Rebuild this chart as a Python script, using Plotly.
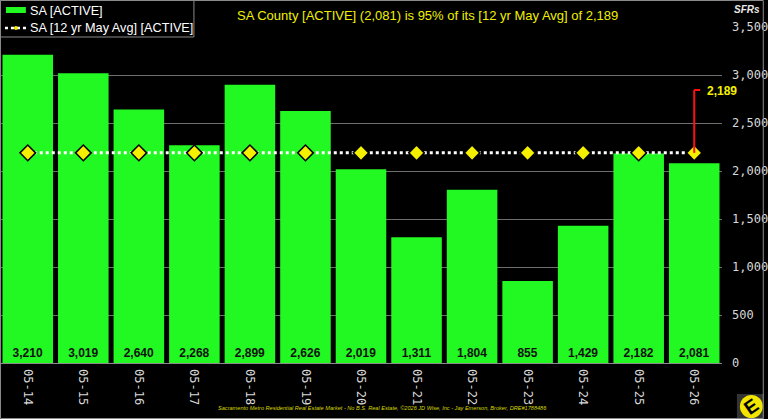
import plotly.graph_objects as go

categories = ["05-14", "05-15", "05-16", "05-17", "05-18", "05-19", "05-20",
              "05-21", "05-22", "05-23", "05-24", "05-25", "05-26"]
active = [3210, 3019, 2640, 2268, 2899, 2626, 2019, 1311, 1804, 855, 1429, 2182, 2081]
avg_value = 2189
avg_line = [avg_value] * len(categories)
callout_top = 2844
series_names = ["SA [ACTIVE]", "SA [12 yr May Avg] [ACTIVE]"]

W, H = 768, 419
L, R, T, B = 0, 42, 27, 56
pw, ph = W - L - R, H - T - B

def px_x(p):
    return (p - L) / pw

def px_y(p):
    return 1 - (p - T) / ph

GREEN = "#22f822"
YELLOW = "#f5f000"

fig = go.Figure()

fig.add_trace(go.Bar(
    x=categories, y=active, name=series_names[0],
    marker=dict(color=GREEN, line=dict(width=0)),
    text=[f"{v:,}" for v in active],
    textposition="inside", insidetextanchor="start",
    textfont=dict(family="Arial", size=12, color="#111111", weight="bold"),
    textangle=0, showlegend=False,
))

fig.add_trace(go.Scatter(
    x=categories, y=avg_line, name=series_names[1],
    mode="lines+markers",
    line=dict(color="white", width=3, dash="dot"),
    marker=dict(symbol="diamond", size=12, color=YELLOW,
                line=dict(color="black", width=1.5)),
    showlegend=False,
))

# red callout line
fig.add_shape(type="line", xref="x", yref="y",
              x0=categories[-1], x1=categories[-1], y0=avg_value, y1=callout_top,
              line=dict(color="#ff1010", width=2))
fig.add_shape(type="line", xref="paper", yref="y",
              x0=px_x(698), x1=px_x(704), y0=callout_top, y1=callout_top,
              line=dict(color="#ff1010", width=2))
fig.add_annotation(xref="paper", yref="paper", x=px_x(709), y=px_y(91),
                   text=f"<b>{avg_value:,}</b>", showarrow=False,
                   xanchor="left", yanchor="middle",
                   font=dict(family="Arial", size=12, color=YELLOW))

# title
fig.add_annotation(xref="paper", yref="paper", x=px_x(430), y=px_y(16),
                   text=f"SA County [ACTIVE] ({active[-1]:,}) is {round(active[-1]/avg_value*100)}% of its [12 yr May Avg] of {avg_value:,}",
                   showarrow=False, xanchor="center", yanchor="middle",
                   font=dict(family="Arial", size=13, color="#f0f000"))

# SFRs
fig.add_annotation(xref="paper", yref="paper", x=px_x(751), y=px_y(10),
                   text="<b><i>SFRs</i></b>", showarrow=False,
                   xanchor="center", yanchor="middle",
                   font=dict(family="Arial", size=10, color="#e8e8e8"))

# footer
fig.add_annotation(xref="paper", yref="paper", x=px_x(385), y=px_y(408),
                   text="<i>Sacramento Metro Residential Real Estate Market - No B.S. Real Estate, ©2026 JD Wise, Inc - Jay Emerson, Broker, DRE#1788486</i>",
                   showarrow=False, xanchor="center", yanchor="middle",
                   font=dict(family="Arial", size=5.6, color="#d8d800"))

# manual legend
fig.add_shape(type="rect", xref="paper", yref="paper",
              x0=px_x(0.5), x1=px_x(195), y0=px_y(37), y1=px_y(0.5),
              fillcolor="black", line=dict(color="#8a8a8a", width=1), layer="above")
fig.add_shape(type="rect", xref="paper", yref="paper",
              x0=px_x(6), x1=px_x(26), y0=px_y(13), y1=px_y(7),
              fillcolor=GREEN, line=dict(width=0), layer="above")
fig.add_shape(type="line", xref="paper", yref="paper",
              x0=px_x(5), x1=px_x(27), y0=px_y(28), y1=px_y(28),
              line=dict(color="white", width=2.5, dash="dot"), layer="above")
fig.add_shape(type="circle", xref="paper", yref="paper",
              x0=px_x(14), x1=px_x(18), y0=px_y(30), y1=px_y(26),
              fillcolor=YELLOW, line=dict(width=0), layer="above")
fig.add_annotation(xref="paper", yref="paper", x=px_x(28), y=px_y(10.5),
                   text=series_names[0], showarrow=False, xanchor="left", yanchor="middle",
                   font=dict(family="Arial", size=12.7, color="white"))
fig.add_annotation(xref="paper", yref="paper", x=px_x(28), y=px_y(28),
                   text=series_names[1], showarrow=False, xanchor="left", yanchor="middle",
                   font=dict(family="Arial", size=12.7, color="white"))

# logo
fig.add_shape(type="rect", xref="paper", yref="paper",
              x0=px_x(741), x1=px_x(768), y0=px_y(419), y1=px_y(394),
              fillcolor="#333333", line=dict(width=0), layer="below")
fig.add_shape(type="circle", xref="paper", yref="paper",
              x0=px_x(744), x1=px_x(767), y0=px_y(418), y1=px_y(395),
              fillcolor="#f2e600", line=dict(width=0), layer="below")
fig.add_annotation(xref="paper", yref="paper", x=px_x(755.5), y=px_y(406.5),
                   text="<b>E</b>", showarrow=False, textangle=-35,
                   xanchor="center", yanchor="middle",
                   font=dict(family="Arial", size=19, color="black"))

# outer border
fig.add_shape(type="rect", xref="paper", yref="paper",
              x0=px_x(0.5), x1=px_x(767.5), y0=px_y(418.5), y1=px_y(0.5),
              line=dict(color="#8a8a8a", width=1), layer="above")

fig.update_layout(
    width=W, height=H,
    margin=dict(l=L, r=R, t=T, b=B),
    paper_bgcolor="black", plot_bgcolor="black",
    bargap=0.09,
    showlegend=False,
    xaxis=dict(type="category", range=[-0.5, len(categories) - 0.5],
               tickangle=90, showgrid=False, zeroline=False,
               showline=False, ticks="", ticklabelstandoff=5,
               tickfont=dict(family="DejaVu Sans Mono", size=12, color="#d8d8d8")),
    yaxis=dict(side="right", range=[0, 3500], dtick=500, tickformat=",",
               showgrid=True, gridcolor="#6e6e6e", gridwidth=1,
               zeroline=True, zerolinecolor="#8a8a8a", zerolinewidth=1,
               ticks="", ticklabelstandoff=9,
               tickfont=dict(family="DejaVu Sans Mono", size=12, color="#d8d8d8")),
)

fig.write_html("out.html")
